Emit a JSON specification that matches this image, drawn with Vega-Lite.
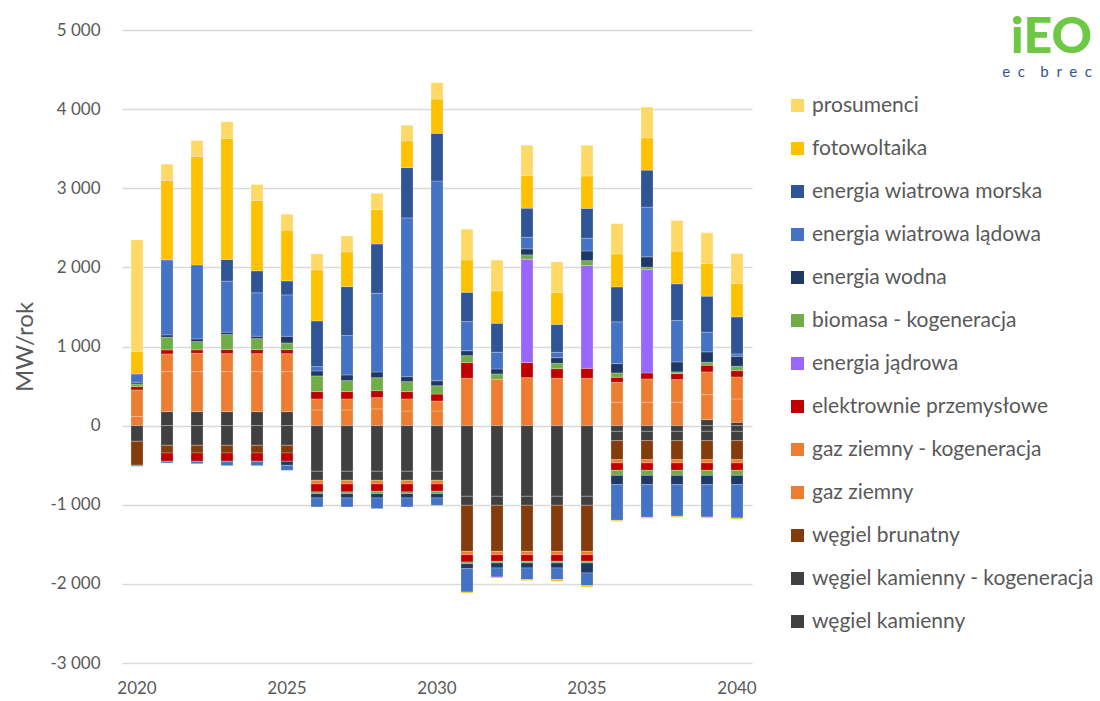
{
 "$schema": "https://vega.github.io/schema/vega-lite/v6.json",
 "width": 630, "height": 633,
 "autosize": {"type": "none"},
 "padding": {"left": 122, "top": 30, "right": 348, "bottom": 38},
 "background": "white",
 "config": {"font": "Lato", "view": {"stroke": null}},
 "title": {"text": "iEO", "subtitle": "e\u00a0\u00a0c\u00a0\u00a0\u00a0\u00a0b\u00a0\u00a0r\u00a0\u00a0e\u00a0\u00a0c", "anchor": "end", "frame": "bounds", "orient": "top", "offset": -59, "dx": -2, "fontSize": 50, "font": "Lato", "fontWeight": 900, "color": "#6DC843", "subtitleColor": "#2F5597", "subtitleFontSize": 15, "subtitleFont": "Lato", "subtitlePadding": 2},
 "datasets": {"d": [
 {"r":2020,"s":"gaz ziemny","v":114},{"r":2020,"s":"gaz ziemny - kogeneracja","v":337},{"r":2020,"s":"elektrownie przemysłowe","v":42},{"r":2020,"s":"biomasa - kogeneracja","v":34},{"r":2020,"s":"energia wodna","v":21},{"r":2020,"s":"energia wiatrowa lądowa","v":105},{"r":2020,"s":"fotowoltaika","v":282},{"r":2020,"s":"prosumenci","v":1412},
 {"r":2020,"s":"węgiel kamienny","v":-198},{"r":2020,"s":"węgiel brunatny","v":-303},{"r":2020,"s":"energia wiatrowa lądowa","v":-13},
 {"r":2021,"s":"węgiel kamienny","v":177},{"r":2021,"s":"gaz ziemny","v":506},{"r":2021,"s":"gaz ziemny - kogeneracja","v":223},{"r":2021,"s":"elektrownie przemysłowe","v":51},{"r":2021,"s":"biomasa - kogeneracja","v":160},{"r":2021,"s":"energia wodna","v":30},{"r":2021,"s":"energia wiatrowa lądowa","v":948},{"r":2021,"s":"fotowoltaika","v":1003},{"r":2021,"s":"prosumenci","v":206},
 {"r":2021,"s":"węgiel kamienny","v":-249},{"r":2021,"s":"węgiel brunatny","v":-97},{"r":2021,"s":"elektrownie przemysłowe","v":-105},{"r":2021,"s":"energia wiatrowa lądowa","v":-21},
 {"r":2022,"s":"węgiel kamienny","v":177},{"r":2022,"s":"gaz ziemny","v":506},{"r":2022,"s":"gaz ziemny - kogeneracja","v":232},{"r":2022,"s":"elektrownie przemysłowe","v":42},{"r":2022,"s":"biomasa - kogeneracja","v":105},{"r":2022,"s":"energia wodna","v":34},{"r":2022,"s":"energia wiatrowa lądowa","v":935},{"r":2022,"s":"fotowoltaika","v":1370},{"r":2022,"s":"prosumenci","v":202},
 {"r":2022,"s":"węgiel kamienny","v":-249},{"r":2022,"s":"węgiel brunatny","v":-97},{"r":2022,"s":"elektrownie przemysłowe","v":-105},{"r":2022,"s":"energia wiatrowa lądowa","v":-30},
 {"r":2023,"s":"węgiel kamienny","v":177},{"r":2023,"s":"gaz ziemny","v":506},{"r":2023,"s":"gaz ziemny - kogeneracja","v":227},{"r":2023,"s":"elektrownie przemysłowe","v":51},{"r":2023,"s":"biomasa - kogeneracja","v":190},{"r":2023,"s":"energia wodna","v":30},{"r":2023,"s":"energia wiatrowa lądowa","v":645},{"r":2023,"s":"energia wiatrowa morska","v":274},{"r":2023,"s":"fotowoltaika","v":1530},{"r":2023,"s":"prosumenci","v":211},
 {"r":2023,"s":"węgiel kamienny","v":-249},{"r":2023,"s":"węgiel brunatny","v":-97},{"r":2023,"s":"elektrownie przemysłowe","v":-105},{"r":2023,"s":"energia wiatrowa lądowa","v":-55},
 {"r":2024,"s":"węgiel kamienny","v":177},{"r":2024,"s":"gaz ziemny","v":506},{"r":2024,"s":"gaz ziemny - kogeneracja","v":227},{"r":2024,"s":"elektrownie przemysłowe","v":51},{"r":2024,"s":"biomasa - kogeneracja","v":139},{"r":2024,"s":"energia wodna","v":30},{"r":2024,"s":"energia wiatrowa lądowa","v":548},{"r":2024,"s":"energia wiatrowa morska","v":278},{"r":2024,"s":"fotowoltaika","v":889},{"r":2024,"s":"prosumenci","v":202},
 {"r":2024,"s":"węgiel kamienny","v":-249},{"r":2024,"s":"węgiel brunatny","v":-97},{"r":2024,"s":"elektrownie przemysłowe","v":-105},{"r":2024,"s":"energia wiatrowa lądowa","v":-55},
 {"r":2025,"s":"węgiel kamienny","v":177},{"r":2025,"s":"gaz ziemny","v":506},{"r":2025,"s":"gaz ziemny - kogeneracja","v":227},{"r":2025,"s":"elektrownie przemysłowe","v":51},{"r":2025,"s":"biomasa - kogeneracja","v":84},{"r":2025,"s":"energia wodna","v":84},{"r":2025,"s":"energia wiatrowa lądowa","v":523},{"r":2025,"s":"energia wiatrowa morska","v":177},{"r":2025,"s":"fotowoltaika","v":641},{"r":2025,"s":"prosumenci","v":202},
 {"r":2025,"s":"węgiel kamienny","v":-249},{"r":2025,"s":"węgiel brunatny","v":-97},{"r":2025,"s":"elektrownie przemysłowe","v":-105},{"r":2025,"s":"energia wodna","v":-51},{"r":2025,"s":"energia wiatrowa lądowa","v":-63},
 {"r":2026,"s":"gaz ziemny","v":198},{"r":2026,"s":"gaz ziemny - kogeneracja","v":139},{"r":2026,"s":"elektrownie przemysłowe","v":93},{"r":2026,"s":"biomasa - kogeneracja","v":198},{"r":2026,"s":"energia wodna","v":63},{"r":2026,"s":"energia wiatrowa lądowa","v":55},{"r":2026,"s":"energia wiatrowa morska","v":577},{"r":2026,"s":"fotowoltaika","v":645},{"r":2026,"s":"prosumenci","v":202},
 {"r":2026,"s":"węgiel kamienny","v":-577},{"r":2026,"s":"węgiel kamienny - kogeneracja","v":-114},{"r":2026,"s":"gaz ziemny","v":-46},{"r":2026,"s":"elektrownie przemysłowe","v":-101},{"r":2026,"s":"biomasa - kogeneracja","v":-21},{"r":2026,"s":"energia wodna","v":-55},{"r":2026,"s":"energia wiatrowa lądowa","v":-114},
 {"r":2027,"s":"gaz ziemny","v":198},{"r":2027,"s":"gaz ziemny - kogeneracja","v":139},{"r":2027,"s":"elektrownie przemysłowe","v":93},{"r":2027,"s":"biomasa - kogeneracja","v":139},{"r":2027,"s":"energia wodna","v":72},{"r":2027,"s":"energia wiatrowa lądowa","v":497},{"r":2027,"s":"energia wiatrowa morska","v":619},{"r":2027,"s":"fotowoltaika","v":438},{"r":2027,"s":"prosumenci","v":202},
 {"r":2027,"s":"węgiel kamienny","v":-577},{"r":2027,"s":"węgiel kamienny - kogeneracja","v":-114},{"r":2027,"s":"gaz ziemny","v":-46},{"r":2027,"s":"elektrownie przemysłowe","v":-101},{"r":2027,"s":"biomasa - kogeneracja","v":-21},{"r":2027,"s":"energia wodna","v":-55},{"r":2027,"s":"energia wiatrowa lądowa","v":-114},
 {"r":2028,"s":"gaz ziemny","v":211},{"r":2028,"s":"gaz ziemny - kogeneracja","v":143},{"r":2028,"s":"elektrownie przemysłowe","v":88},{"r":2028,"s":"biomasa - kogeneracja","v":164},{"r":2028,"s":"energia wodna","v":72},{"r":2028,"s":"energia wiatrowa lądowa","v":994},{"r":2028,"s":"energia wiatrowa morska","v":624},{"r":2028,"s":"fotowoltaika","v":434},{"r":2028,"s":"prosumenci","v":206},
 {"r":2028,"s":"węgiel kamienny","v":-577},{"r":2028,"s":"węgiel kamienny - kogeneracja","v":-114},{"r":2028,"s":"gaz ziemny","v":-46},{"r":2028,"s":"elektrownie przemysłowe","v":-93},{"r":2028,"s":"biomasa - kogeneracja","v":-29},{"r":2028,"s":"energia wodna","v":-55},{"r":2028,"s":"energia wiatrowa lądowa","v":-135},
 {"r":2029,"s":"gaz ziemny","v":185},{"r":2029,"s":"gaz ziemny - kogeneracja","v":152},{"r":2029,"s":"elektrownie przemysłowe","v":93},{"r":2029,"s":"biomasa - kogeneracja","v":126},{"r":2029,"s":"energia wodna","v":63},{"r":2029,"s":"energia wiatrowa lądowa","v":2006},{"r":2029,"s":"energia wiatrowa morska","v":636},{"r":2029,"s":"fotowoltaika","v":337},{"r":2029,"s":"prosumenci","v":198},
 {"r":2029,"s":"węgiel kamienny","v":-577},{"r":2029,"s":"węgiel kamienny - kogeneracja","v":-114},{"r":2029,"s":"gaz ziemny","v":-46},{"r":2029,"s":"elektrownie przemysłowe","v":-101},{"r":2029,"s":"biomasa - kogeneracja","v":-21},{"r":2029,"s":"energia wodna","v":-55},{"r":2029,"s":"energia wiatrowa lądowa","v":-114},
 {"r":2030,"s":"gaz ziemny","v":185},{"r":2030,"s":"gaz ziemny - kogeneracja","v":126},{"r":2030,"s":"elektrownie przemysłowe","v":88},{"r":2030,"s":"biomasa - kogeneracja","v":105},{"r":2030,"s":"energia wodna","v":63},{"r":2030,"s":"energia wiatrowa lądowa","v":2524},{"r":2030,"s":"energia wiatrowa morska","v":603},{"r":2030,"s":"fotowoltaika","v":434},{"r":2030,"s":"prosumenci","v":206},
 {"r":2030,"s":"węgiel kamienny","v":-577},{"r":2030,"s":"węgiel kamienny - kogeneracja","v":-114},{"r":2030,"s":"gaz ziemny","v":-46},{"r":2030,"s":"elektrownie przemysłowe","v":-93},{"r":2030,"s":"biomasa - kogeneracja","v":-29},{"r":2030,"s":"energia wodna","v":-55},{"r":2030,"s":"energia wiatrowa lądowa","v":-93},
 {"r":2031,"s":"gaz ziemny","v":598},{"r":2031,"s":"elektrownie przemysłowe","v":198},{"r":2031,"s":"biomasa - kogeneracja","v":88},{"r":2031,"s":"energia wodna","v":63},{"r":2031,"s":"energia wiatrowa lądowa","v":367},{"r":2031,"s":"energia wiatrowa morska","v":371},{"r":2031,"s":"fotowoltaika","v":409},{"r":2031,"s":"prosumenci","v":388},
 {"r":2031,"s":"węgiel kamienny","v":-893},{"r":2031,"s":"węgiel kamienny - kogeneracja","v":-114},{"r":2031,"s":"węgiel brunatny","v":-582},{"r":2031,"s":"gaz ziemny","v":-42},{"r":2031,"s":"elektrownie przemysłowe","v":-93},{"r":2031,"s":"biomasa - kogeneracja","v":-21},{"r":2031,"s":"energia wodna","v":-63},{"r":2031,"s":"energia wiatrowa lądowa","v":-295},{"r":2031,"s":"fotowoltaika","v":-13},
 {"r":2032,"s":"gaz ziemny","v":586},{"r":2032,"s":"biomasa - kogeneracja","v":67},{"r":2032,"s":"energia wodna","v":63},{"r":2032,"s":"energia wiatrowa lądowa","v":211},{"r":2032,"s":"energia wiatrowa morska","v":367},{"r":2032,"s":"fotowoltaika","v":409},{"r":2032,"s":"prosumenci","v":388},
 {"r":2032,"s":"węgiel kamienny","v":-893},{"r":2032,"s":"węgiel kamienny - kogeneracja","v":-114},{"r":2032,"s":"węgiel brunatny","v":-582},{"r":2032,"s":"gaz ziemny","v":-42},{"r":2032,"s":"elektrownie przemysłowe","v":-84},{"r":2032,"s":"biomasa - kogeneracja","v":-21},{"r":2032,"s":"energia wodna","v":-63},{"r":2032,"s":"energia wiatrowa lądowa","v":-114},{"r":2032,"s":"fotowoltaika","v":-13},
 {"r":2033,"s":"gaz ziemny","v":607},{"r":2033,"s":"elektrownie przemysłowe","v":190},{"r":2033,"s":"energia jądrowa","v":1306},{"r":2033,"s":"biomasa - kogeneracja","v":55},{"r":2033,"s":"energia wodna","v":76},{"r":2033,"s":"energia wiatrowa lądowa","v":147},{"r":2033,"s":"energia wiatrowa morska","v":367},{"r":2033,"s":"fotowoltaika","v":413},{"r":2033,"s":"prosumenci","v":383},
 {"r":2033,"s":"węgiel kamienny","v":-893},{"r":2033,"s":"węgiel kamienny - kogeneracja","v":-114},{"r":2033,"s":"węgiel brunatny","v":-582},{"r":2033,"s":"gaz ziemny","v":-42},{"r":2033,"s":"elektrownie przemysłowe","v":-84},{"r":2033,"s":"biomasa - kogeneracja","v":-21},{"r":2033,"s":"energia wodna","v":-63},{"r":2033,"s":"energia wiatrowa lądowa","v":-147},{"r":2033,"s":"fotowoltaika","v":-13},
 {"r":2034,"s":"gaz ziemny","v":598},{"r":2034,"s":"elektrownie przemysłowe","v":122},{"r":2034,"s":"biomasa - kogeneracja","v":67},{"r":2034,"s":"energia wodna","v":72},{"r":2034,"s":"energia wiatrowa lądowa","v":67},{"r":2034,"s":"energia wiatrowa morska","v":354},{"r":2034,"s":"fotowoltaika","v":400},{"r":2034,"s":"prosumenci","v":388},
 {"r":2034,"s":"węgiel kamienny","v":-893},{"r":2034,"s":"węgiel kamienny - kogeneracja","v":-114},{"r":2034,"s":"węgiel brunatny","v":-582},{"r":2034,"s":"gaz ziemny","v":-42},{"r":2034,"s":"elektrownie przemysłowe","v":-84},{"r":2034,"s":"biomasa - kogeneracja","v":-21},{"r":2034,"s":"energia wodna","v":-63},{"r":2034,"s":"energia wiatrowa lądowa","v":-147},{"r":2034,"s":"fotowoltaika","v":-21},
 {"r":2035,"s":"gaz ziemny","v":598},{"r":2035,"s":"elektrownie przemysłowe","v":126},{"r":2035,"s":"energia jądrowa","v":1298},{"r":2035,"s":"biomasa - kogeneracja","v":63},{"r":2035,"s":"energia wodna","v":122},{"r":2035,"s":"energia wiatrowa lądowa","v":160},{"r":2035,"s":"energia wiatrowa morska","v":379},{"r":2035,"s":"fotowoltaika","v":409},{"r":2035,"s":"prosumenci","v":388},
 {"r":2035,"s":"węgiel kamienny","v":-893},{"r":2035,"s":"węgiel kamienny - kogeneracja","v":-114},{"r":2035,"s":"węgiel brunatny","v":-582},{"r":2035,"s":"gaz ziemny","v":-42},{"r":2035,"s":"elektrownie przemysłowe","v":-84},{"r":2035,"s":"biomasa - kogeneracja","v":-21},{"r":2035,"s":"energia wodna","v":-126},{"r":2035,"s":"energia wiatrowa lądowa","v":-160},{"r":2035,"s":"fotowoltaika","v":-17},
 {"r":2036,"s":"gaz ziemny","v":295},{"r":2036,"s":"gaz ziemny - kogeneracja","v":253},{"r":2036,"s":"elektrownie przemysłowe","v":63},{"r":2036,"s":"biomasa - kogeneracja","v":55},{"r":2036,"s":"energia wodna","v":118},{"r":2036,"s":"energia wiatrowa lądowa","v":527},{"r":2036,"s":"energia wiatrowa morska","v":442},{"r":2036,"s":"fotowoltaika","v":417},{"r":2036,"s":"prosumenci","v":383},
 {"r":2036,"s":"węgiel kamienny","v":-72},{"r":2036,"s":"węgiel kamienny - kogeneracja","v":-118},{"r":2036,"s":"węgiel brunatny","v":-240},{"r":2036,"s":"gaz ziemny","v":-42},{"r":2036,"s":"elektrownie przemysłowe","v":-93},{"r":2036,"s":"biomasa - kogeneracja","v":-63},{"r":2036,"s":"energia wodna","v":-118},{"r":2036,"s":"energia wiatrowa lądowa","v":-451},{"r":2036,"s":"fotowoltaika","v":-13},
 {"r":2037,"s":"gaz ziemny","v":295},{"r":2037,"s":"gaz ziemny - kogeneracja","v":295},{"r":2037,"s":"elektrownie przemysłowe","v":76},{"r":2037,"s":"energia jądrowa","v":1306},{"r":2037,"s":"biomasa - kogeneracja","v":30},{"r":2037,"s":"energia wodna","v":131},{"r":2037,"s":"energia wiatrowa lądowa","v":628},{"r":2037,"s":"energia wiatrowa morska","v":468},{"r":2037,"s":"fotowoltaika","v":409},{"r":2037,"s":"prosumenci","v":388},
 {"r":2037,"s":"węgiel kamienny","v":-72},{"r":2037,"s":"węgiel kamienny - kogeneracja","v":-118},{"r":2037,"s":"węgiel brunatny","v":-240},{"r":2037,"s":"gaz ziemny","v":-42},{"r":2037,"s":"elektrownie przemysłowe","v":-93},{"r":2037,"s":"biomasa - kogeneracja","v":-63},{"r":2037,"s":"energia wodna","v":-118},{"r":2037,"s":"energia wiatrowa lądowa","v":-413},{"r":2037,"s":"fotowoltaika","v":-13},
 {"r":2038,"s":"gaz ziemny","v":295},{"r":2038,"s":"gaz ziemny - kogeneracja","v":287},{"r":2038,"s":"elektrownie przemysłowe","v":76},{"r":2038,"s":"biomasa - kogeneracja","v":21},{"r":2038,"s":"energia wodna","v":126},{"r":2038,"s":"energia wiatrowa lądowa","v":523},{"r":2038,"s":"energia wiatrowa morska","v":464},{"r":2038,"s":"fotowoltaika","v":413},{"r":2038,"s":"prosumenci","v":388},
 {"r":2038,"s":"węgiel kamienny","v":-72},{"r":2038,"s":"węgiel kamienny - kogeneracja","v":-118},{"r":2038,"s":"węgiel brunatny","v":-240},{"r":2038,"s":"gaz ziemny","v":-42},{"r":2038,"s":"elektrownie przemysłowe","v":-93},{"r":2038,"s":"biomasa - kogeneracja","v":-63},{"r":2038,"s":"energia wodna","v":-118},{"r":2038,"s":"energia wiatrowa lądowa","v":-400},{"r":2038,"s":"fotowoltaika","v":-13},
 {"r":2039,"s":"węgiel kamienny","v":76},{"r":2039,"s":"gaz ziemny","v":316},{"r":2039,"s":"gaz ziemny - kogeneracja","v":287},{"r":2039,"s":"elektrownie przemysłowe","v":84},{"r":2039,"s":"biomasa - kogeneracja","v":38},{"r":2039,"s":"energia wodna","v":131},{"r":2039,"s":"energia wiatrowa lądowa","v":249},{"r":2039,"s":"energia wiatrowa morska","v":455},{"r":2039,"s":"fotowoltaika","v":413},{"r":2039,"s":"prosumenci","v":388},
 {"r":2039,"s":"węgiel kamienny","v":-72},{"r":2039,"s":"węgiel kamienny - kogeneracja","v":-118},{"r":2039,"s":"węgiel brunatny","v":-240},{"r":2039,"s":"gaz ziemny","v":-42},{"r":2039,"s":"elektrownie przemysłowe","v":-93},{"r":2039,"s":"biomasa - kogeneracja","v":-63},{"r":2039,"s":"energia wodna","v":-118},{"r":2039,"s":"energia wiatrowa lądowa","v":-409},{"r":2039,"s":"fotowoltaika","v":-13},
 {"r":2040,"s":"węgiel kamienny","v":42},{"r":2040,"s":"gaz ziemny","v":295},{"r":2040,"s":"gaz ziemny - kogeneracja","v":278},{"r":2040,"s":"elektrownie przemysłowe","v":80},{"r":2040,"s":"biomasa - kogeneracja","v":55},{"r":2040,"s":"energia wodna","v":126},{"r":2040,"s":"energia wiatrowa lądowa","v":30},{"r":2040,"s":"energia wiatrowa morska","v":468},{"r":2040,"s":"fotowoltaika","v":421},{"r":2040,"s":"prosumenci","v":379},
 {"r":2040,"s":"węgiel kamienny","v":-72},{"r":2040,"s":"węgiel kamienny - kogeneracja","v":-118},{"r":2040,"s":"węgiel brunatny","v":-240},{"r":2040,"s":"gaz ziemny","v":-42},{"r":2040,"s":"elektrownie przemysłowe","v":-93},{"r":2040,"s":"biomasa - kogeneracja","v":-63},{"r":2040,"s":"energia wodna","v":-118},{"r":2040,"s":"energia wiatrowa lądowa","v":-421},{"r":2040,"s":"fotowoltaika","v":-13}
 ]},
 "data": {"name": "d"},
 "transform": [{"calculate": "indexof(['węgiel kamienny','węgiel kamienny - kogeneracja','węgiel brunatny','gaz ziemny','gaz ziemny - kogeneracja','elektrownie przemysłowe','energia jądrowa','biomasa - kogeneracja','energia wodna','energia wiatrowa lądowa','energia wiatrowa morska','fotowoltaika','prosumenci'], datum.s)", "as": "o"}],
 "mark": {"type": "bar", "stroke": "white", "strokeWidth": 0.4, "strokeOpacity": 0.6},
 "encoding": {
  "x": {"field": "r", "type": "ordinal", "scale": {"paddingInner": 0.6, "paddingOuter": 0.3},
        "axis": {"values": [2020, 2025, 2030, 2035, 2040], "title": null, "labelAngle": 0, "labelFontSize": 17, "labelColor": "#595959", "labelPadding": 17, "domain": false, "ticks": false}},
  "y": {"field": "v", "type": "quantitative", "stack": "zero", "scale": {"domain": [-3000, 5000], "nice": false},
        "axis": {"values": [-3000, -2000, -1000, 0, 1000, 2000, 3000, 4000, 5000], "title": "MW/rok", "titleFontSize": 24, "titleFontWeight": "normal", "titleColor": "#595959", "titlePadding": 12,
                 "labelExpr": "replace(replace(format(datum.value, ','), ',', ' '), '−', '-')", "labelFontSize": 17, "labelColor": "#595959", "labelPadding": 22,
                 "domain": false, "ticks": false, "gridColor": "#D9D9D9", "gridWidth": 1.5}},
  "color": {"field": "s", "type": "nominal",
            "scale": {"domain": ["prosumenci","fotowoltaika","energia wiatrowa morska","energia wiatrowa lądowa","energia wodna","biomasa - kogeneracja","energia jądrowa","elektrownie przemysłowe","gaz ziemny - kogeneracja","gaz ziemny","węgiel brunatny","węgiel kamienny - kogeneracja","węgiel kamienny"],
                      "range": ["#FFD966","#FFC000","#2F5597","#4472C4","#203864","#70AD47","#9966FF","#C00000","#ED7D31","#ED7D31","#843C0C","#404040","#404040"]},
            "legend": {"title": null, "orient": "none", "legendX": 665, "legendY": 65, "symbolType": "square", "symbolSize": 169, "symbolStrokeWidth": 0, "labelFontSize": 21, "labelColor": "#595959", "labelOffset": 4, "rowPadding": 21, "labelLimit": 400}},
  "order": {"field": "o", "type": "quantitative", "sort": "ascending"}
 }
}
